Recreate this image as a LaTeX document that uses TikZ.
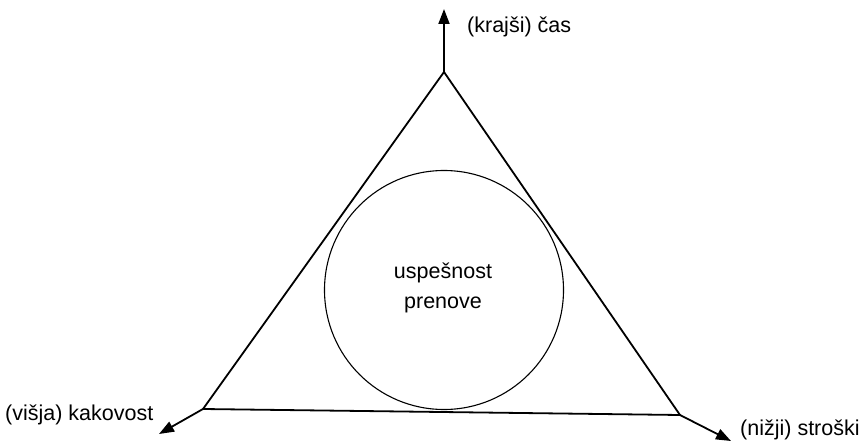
\documentclass[tikz,border=0pt]{standalone}
\usepackage{fontspec}
\setmainfont{Liberation Sans}
\usepackage{tikz}
\usetikzlibrary{arrows.meta,positioning}
\tikzset{
  ar/.style={-{Triangle[length=15pt,width=11pt]},line width=1.8pt},
  side/.style={line width=1.8pt,line join=miter},
  lab/.style={font=\fontsize{21.5}{30}\selectfont,inner sep=0pt,align=center}
}
\begin{document}
\begin{tikzpicture}[x=1pt,y=-1pt]
\useasboundingbox (0,0) rectangle (862,441);
% vrhovi trikotnika
\coordinate (top) at (444,72);
\coordinate (bl) at (203,409);
\coordinate (br) at (680,415);
\coordinate (topend) at (444,9);
\coordinate (blend) at (159,434);
\coordinate (brend) at (731,441);
\draw[side] (top) -- (bl) -- (br) -- cycle;
\node[circle,draw,line width=1.1pt,minimum size=239pt,inner sep=0pt] (ring) at (444,290) {};
\node[lab] (goal) at (443,288) {uspešnost\\prenove};
% osi
\draw[ar] (top) -- (topend);
\draw[ar] (bl) -- (blend);
\draw[ar] (br) -- (brend);
\node[lab,anchor=west] (time) at (467,27) {(krajši) čas};
\node[lab,anchor=west] (quality) at (5,415) {(višja) kakovost};
\node[lab,anchor=west] (cost) at (740,430) {(nižji) stroški};
\end{tikzpicture}
\end{document}
